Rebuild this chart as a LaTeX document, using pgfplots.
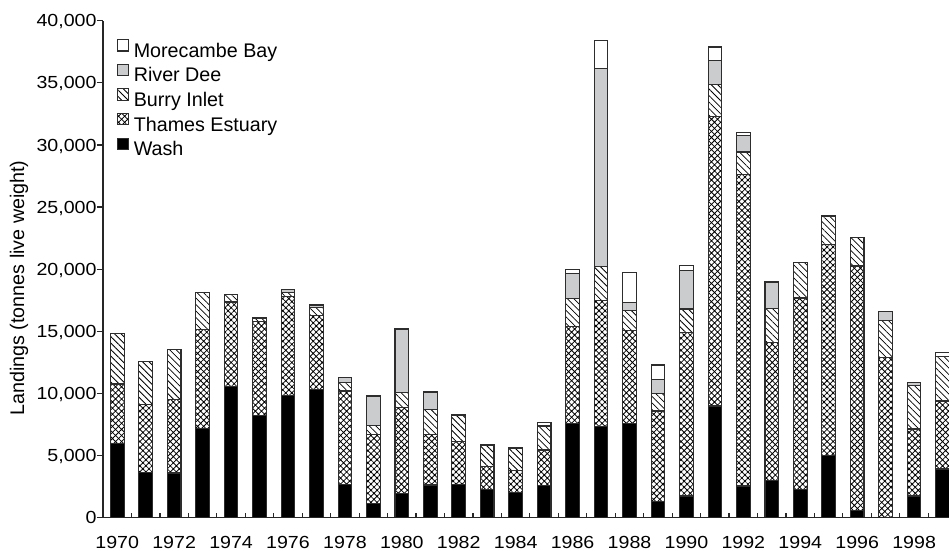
\documentclass[border=0pt]{standalone}
\usepackage{fontspec}
\setmainfont{Liberation Sans}
\newfontfamily\tickfont[FakeStretch=1.12]{Liberation Sans}
\usepackage{pgfplots}
\pgfplotsset{compat=1.18}
\usepackage{pgfplotstable}
\usetikzlibrary{patterns.meta}

\definecolor{deegray}{RGB}{203,204,206}
\definecolor{edge}{RGB}{45,45,45}

% Annual landings (tonnes live weight) by fishery
\pgfplotstableread{
year wash thames burry dee more
1970 6000 4760 4080 0 0
1971 3620 5500 3430 0 0
1972 3600 5900 4050 0 0
1973 7150 8000 3000 0 0
1974 10540 6820 640 0 0
1975 8250 7550 200 100 0
1976 9800 8000 350 200 50
1977 10350 5950 600 200 50
1978 2700 7500 700 350 50
1979 1150 5550 700 2350 50
1980 1950 6900 1200 5100 80
1981 2630 4100 1980 1400 60
1982 2700 3450 2080 80 0
1983 2300 1850 1650 70 0
1984 2000 1800 1800 70 0
1985 2600 2850 1880 50 300
1986 7550 7830 2280 2010 320
1987 7330 10140 2730 15970 2230
1988 7600 7450 1590 700 2380
1989 1290 7300 1420 1130 1150
1990 1750 13170 1880 3080 400
1991 8990 23280 2610 1900 1100
1992 2550 25060 1820 1320 270
1993 2980 11110 2760 2120 0
1994 2280 15400 2840 0 0
1995 4990 17010 2280 0 0
1996 560 19700 2310 0 0
1997 0 12880 2980 720 0
1998 1750 5390 3520 210 0
1999 3920 5470 3570 0 350
}\landings

\begin{document}
\begin{tikzpicture}
\begin{axis}[
  scale only axis, width=846bp, height=497bp,
  at={(0,0)}, anchor=south west,
  xmin=1969.5, xmax=1999.226, ymin=0, ymax=40000,
  axis x line*=bottom, axis y line*=left,
  axis line style={line width=1.5bp, black!85},
  axis on top,
  ybar stacked, bar width=0.48,
  tick align=inside,
  major tick length=6bp, minor tick length=5bp,
  tick style={black!85, line width=1.2bp},
  xtick={1970,1972,...,1998},
  xticklabels={1970,1972,1974,1976,1978,1980,1982,1984,1986,1988,1990,1992,1994,1996,1998},
  minor xtick={1970.5,1971.5,...,1998.5},
  major x tick style={draw=none},
  ytick={0,5000,...,40000},
  major y tick style={xshift=-6bp},
  scaled y ticks=false,
  yticklabel={\pgfmathprintnumber[fixed,precision=0,1000 sep={,},assume math mode=true]{\tick}},
  tick label style={font=\tickfont\fontsize{17.5bp}{20bp}\selectfont},
  xticklabel style={anchor=north, inner sep=0pt, yshift=-18.5bp},
  yticklabel style={anchor=east, inner sep=0pt, xshift=-6.3bp, text depth=0pt},
  ylabel={Landings (tonnes live weight)},
  every axis y label/.style={at={(axis description cs:-0.0993,0.4622)}, rotate=90, anchor=center,
    font=\fontsize{19.7bp}{22bp}\selectfont},
  reverse legend,
  legend cell align=left,
  legend image code/.code={\draw[#1] (0bp,1.3bp) rectangle (11.3bp,12.6bp);},
  legend style={at={(axis description cs:0.0162,0.9632)}, anchor=north west,
    draw=none, fill=none, inner sep=0pt, row sep=2.45bp,
    font=\fontsize{19.7bp}{22bp}\selectfont,
    nodes={inner sep=0pt, text height=14bp, text depth=4bp},
    /tikz/every odd column/.append style={column sep=4.5bp}},
  every axis plot/.append style={draw=edge, line width=1.1bp},
]
\addplot[fill=black] table[x=year,y=wash]{\landings};
\addlegendentry{Wash}
\addplot[preaction={fill=white}, pattern={Hatch[angle=45,distance=4.3bp,line width=0.8bp]}, pattern color=black]
  table[x=year,y=thames]{\landings};
\addlegendentry{Thames Estuary}
\addplot[preaction={fill=white}, pattern={Lines[angle=-45,distance=4.6bp,line width=0.75bp]}, pattern color=black]
  table[x=year,y=burry]{\landings};
\addlegendentry{Burry Inlet}
\addplot[fill=deegray] table[x=year,y=dee]{\landings};
\addlegendentry{River Dee}
\addplot[fill=white] table[x=year,y=more]{\landings};
\addlegendentry{Morecambe Bay}
\end{axis}
\pgfresetboundingbox
\useasboundingbox (-103bp,-33.3bp) rectangle (846bp,517.7bp);
\end{tikzpicture}
\end{document}
